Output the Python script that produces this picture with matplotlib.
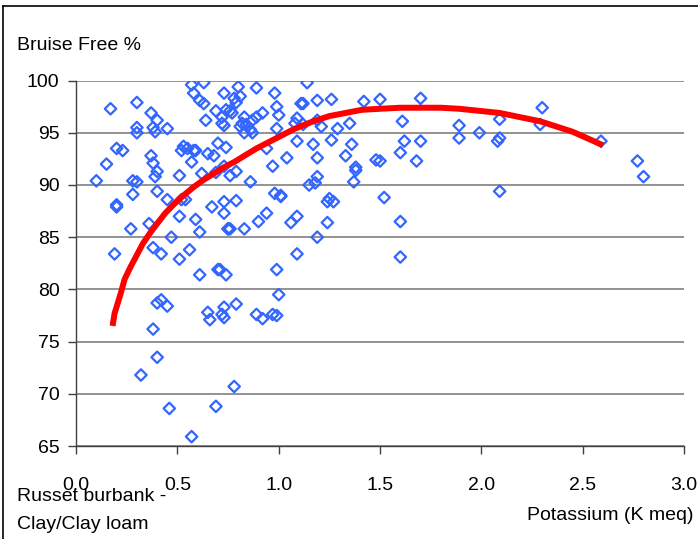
import matplotlib.pyplot as plt
from matplotlib.lines import Line2D

plt.rcParams['font.family'] = ['Liberation Sans', 'DejaVu Sans']

# Potassium (K meq) vs bruise free %
potassium = [
    0.10, 0.15, 0.17, 0.19, 0.20, 0.20, 0.20, 0.23, 0.27, 0.28, 0.30, 0.28,
    0.30, 0.30, 0.30, 0.32, 0.36, 0.37, 0.38, 0.39, 0.37, 0.40, 0.38, 0.40,
    0.45, 0.39, 0.40, 0.38, 0.42, 0.45, 0.40, 0.42, 0.45, 0.38, 0.40, 0.46,
    0.47, 0.51, 0.52, 0.53, 0.55, 0.58, 0.59, 0.57, 0.52, 0.54, 0.51, 0.59,
    0.61, 0.56, 0.51, 0.61, 0.57, 0.58, 0.61, 0.63, 0.63, 0.65, 0.68, 0.62,
    0.64, 0.69, 0.70, 0.72, 0.72, 0.73, 0.74, 0.67, 0.73, 0.74, 0.70, 0.74,
    0.73, 0.76, 0.79, 0.69, 0.71, 0.75, 0.65, 0.66, 0.73, 0.72, 0.73, 0.79,
    0.69, 0.57, 0.78, 0.73, 0.80, 0.78, 0.81, 0.79, 0.76, 0.77, 0.83, 0.82,
    0.84, 0.87, 0.89, 0.92, 0.86, 0.83, 0.87, 0.81, 0.89, 0.73, 0.76, 0.79,
    0.86, 0.75, 0.83, 0.90, 0.94, 0.94, 0.98, 1.01, 0.99, 1.00, 0.99, 0.97,
    1.04, 0.98, 0.99, 1.00, 0.99, 0.89, 0.92, 0.97, 1.01, 1.11, 1.14, 1.12,
    1.19, 1.26, 1.09, 1.08, 1.12, 1.19, 1.21, 1.29, 1.35, 1.09, 1.17, 1.26,
    1.36, 1.19, 1.33, 1.15, 1.18, 1.19, 1.24, 1.27, 1.25, 1.06, 1.09, 1.24,
    1.19, 1.09, 1.38, 1.38, 1.37, 1.42, 1.48, 1.50, 1.70, 1.61, 1.62, 1.70,
    1.50, 1.60, 1.68, 1.52, 1.60, 1.60, 1.89, 1.89, 1.99, 2.09, 2.09, 2.08,
    2.09, 2.30, 2.29, 2.59, 2.77, 2.80,
]
bruise_free = [
    90.4, 92.0, 97.3, 83.4, 88.1, 87.9, 93.5, 93.3, 85.8, 90.4, 90.3, 89.1,
    97.9, 95.5, 95.0, 71.8, 86.3, 96.9, 95.5, 95.1, 92.8, 96.2, 92.1, 91.3,
    95.4, 90.8, 89.4, 84.0, 83.4, 88.6, 78.7, 79.0, 78.4, 76.2, 73.5, 68.6,
    85.0, 90.9, 93.3, 93.7, 93.5, 93.3, 93.3, 92.2, 88.6, 88.6, 87.0, 86.7,
    85.5, 83.8, 82.9, 81.4, 65.9, 98.8, 98.1, 97.8, 99.8, 93.0, 92.8, 91.1,
    96.2, 97.1, 94.0, 96.5, 95.9, 95.7, 97.2, 87.9, 87.3, 93.6, 81.9, 81.4,
    91.8, 90.9, 91.3, 68.8, 81.9, 85.8, 77.8, 77.1, 78.3, 77.6, 77.3, 78.6,
    91.2, 99.6, 70.7, 98.8, 99.4, 98.3, 98.5, 97.9, 97.1, 96.9, 96.5, 95.9,
    95.8, 96.2, 96.5, 96.9, 95.3, 95.0, 95.0, 95.6, 99.3, 88.4, 85.8, 88.5,
    90.3, 85.8, 85.8, 86.5, 87.3, 93.5, 98.8, 88.9, 97.5, 96.7, 95.4, 91.8,
    92.6, 89.2, 81.9, 79.5, 77.5, 77.6, 77.2, 77.6, 89.0, 97.8, 99.8, 97.8,
    98.1, 98.2, 96.4, 95.9, 95.8, 96.2, 95.6, 95.4, 95.9, 94.2, 93.9, 94.3,
    93.9, 92.6, 92.8, 90.0, 90.2, 90.8, 88.4, 88.4, 88.7, 86.4, 87.0, 86.4,
    85.0, 83.4, 91.7, 91.4, 90.3, 98.0, 92.4, 98.2, 98.3, 96.1, 94.2, 94.2,
    92.3, 93.1, 92.3, 88.8, 86.5, 83.1, 95.7, 94.5, 95.0, 96.3, 94.5, 94.2,
    89.4, 97.4, 95.8, 94.2, 92.3, 90.8,
]

# trend curve
trend_x = [0.18, 0.19, 0.22, 0.24, 0.27, 0.30, 0.33, 0.365, 0.40, 0.44,
           0.48, 0.53, 0.58, 0.63, 0.68, 0.73, 0.78, 0.89, 1.00, 1.08,
           1.17, 1.25, 1.33, 1.41, 1.50, 1.60, 1.70, 1.80, 1.89, 1.99,
           2.09, 2.19, 2.29, 2.37, 2.45, 2.52, 2.60]
trend_y = [76.5, 77.7, 79.6, 81.0, 82.2, 83.3, 84.4, 85.4, 86.3, 87.3,
           88.1, 89.0, 89.8, 90.5, 91.1, 91.7, 92.2, 93.5, 94.6, 95.4,
           96.1, 96.6, 96.9, 97.2, 97.3, 97.4, 97.4, 97.4, 97.3, 97.1,
           96.9, 96.5, 96.1, 95.6, 95.1, 94.5, 93.8]

x_ticks = [0.0, 0.5, 1.0, 1.5, 2.0, 2.5, 3.0]
y_ticks = [65, 70, 75, 80, 85, 90, 95, 100]

fig = plt.figure(figsize=(6.98, 5.39), dpi=100)
ax = fig.add_axes([0.109, 0.1725, 0.871, 0.678])

ax.scatter(potassium, bruise_free, marker='D', s=34, facecolors='none',
           edgecolors='#3366FF', linewidths=1.6, zorder=3)
ax.plot(trend_x, trend_y, color='#FF0000', linewidth=4.3,
        solid_capstyle='butt', solid_joinstyle='round', zorder=4)

ax.set_xlim(0, 3.0)
ax.set_ylim(65, 100)
ax.set_xticks(x_ticks)
ax.set_xticklabels([f'{t:.1f}' for t in x_ticks])
ax.set_yticks(y_ticks)

ax.grid(True, axis='y', color='#808080', linewidth=1.2)
ax.set_axisbelow(True)
for side in ['top', 'right']:
    ax.spines[side].set_visible(False)
for side in ['left', 'bottom']:
    ax.spines[side].set_color('#404040')
    ax.spines[side].set_linewidth(1.0)

ax.tick_params(axis='both', direction='out', length=6, width=1.0,
               color='#404040', labelsize=14)
ax.tick_params(axis='x', pad=16)
ax.tick_params(axis='y', pad=6)

fig.text(0.024, 0.916, 'Bruise Free %', fontsize=14, ha='left', va='center')
fig.text(0.024, 0.078, 'Russet burbank -', fontsize=14, ha='left', va='center')
fig.text(0.024, 0.027, 'Clay/Clay loam', fontsize=14, ha='left', va='center')
fig.text(0.994, 0.043, 'Potassium (K meq)', fontsize=14, ha='right', va='center')

# chart frame, only the left and top edges are inside the picture
fig.add_artist(Line2D([0.0036, 0.0036], [0.0, 0.989], color='black', linewidth=1.2))
fig.add_artist(Line2D([0.0036, 1.0], [0.989, 0.989], color='black', linewidth=1.2))

plt.savefig('out.png', dpi=100)
